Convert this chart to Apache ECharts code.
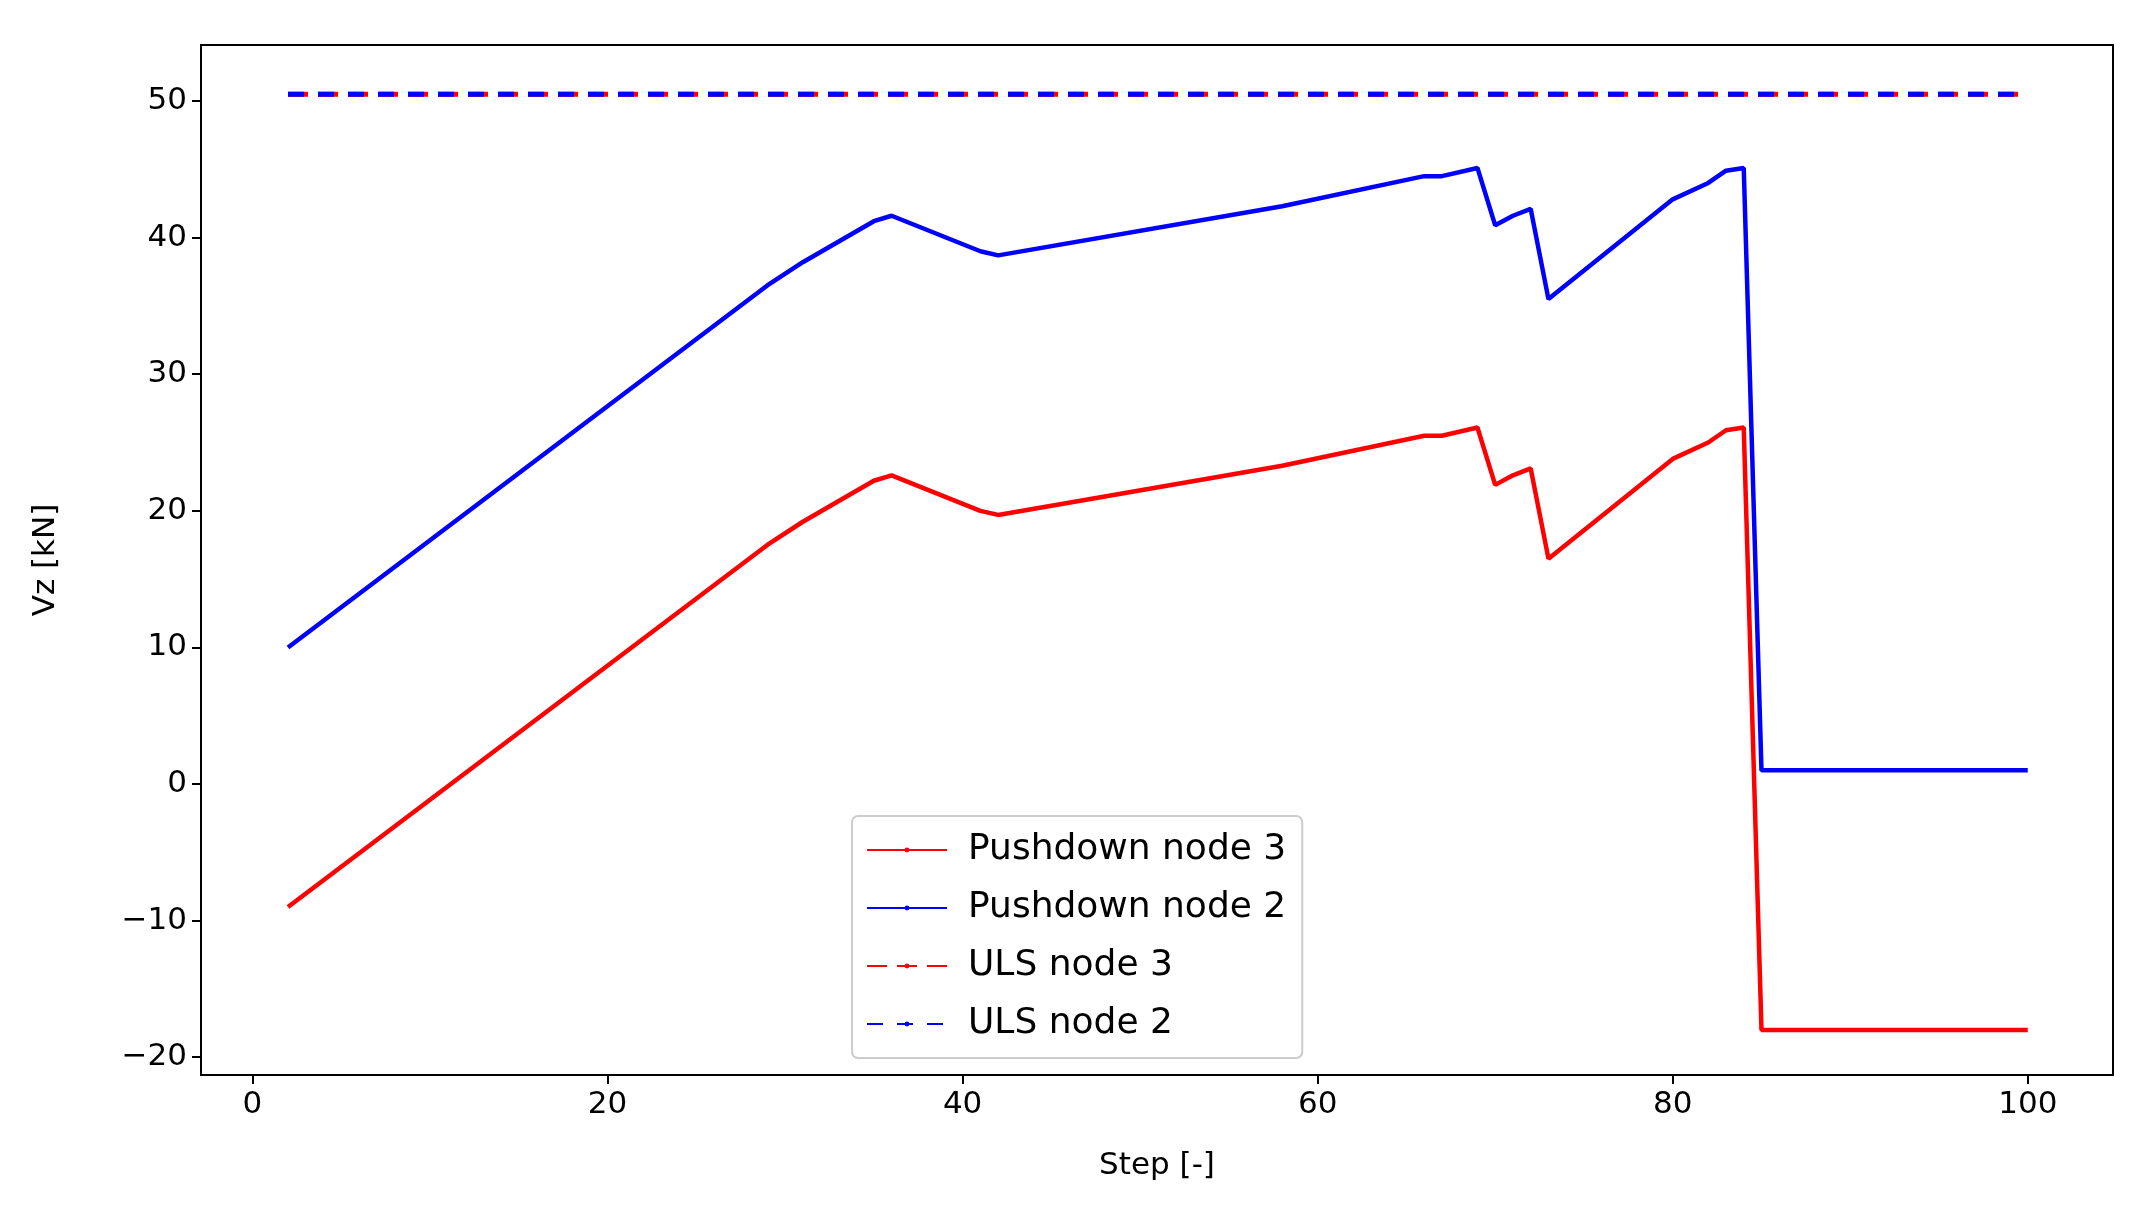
<!DOCTYPE html>
<html>
<head>
<meta charset="utf-8">
<script src="https://cdn.jsdelivr.net/npm/echarts@6/dist/echarts.min.js"></script>
<style>html,body{margin:0;padding:0;background:#fff}#main{width:2133px;height:1230px}</style>
</head>
<body>
<div id="main"></div>
<script>
var steps = [2, 29, 31, 35, 36, 41, 42, 58, 66, 67, 69, 70, 71, 72, 73, 80, 82, 83, 84, 85, 100];
var node2 = [10, 36.5, 38.2, 41.2, 41.6, 39.0, 38.7, 42.3, 44.5, 44.5, 45.1, 40.9, 41.6, 42.1, 35.5, 42.8, 44.0, 44.9, 45.1, 1.0, 1.0];
var node3 = [-9, 17.5, 19.2, 22.2, 22.6, 20.0, 19.7, 23.3, 25.5, 25.5, 26.1, 21.9, 22.6, 23.1, 16.5, 23.8, 25.0, 25.9, 26.1, -18.0, -18.0];
var ulsSteps = [2, 100];
var uls3 = [50.5, 50.5];
var uls2 = [50.5, 50.5];
var xTicks = [0, 20, 40, 60, 80, 100];
var yTicks = [-20, -10, 0, 10, 20, 30, 40, 50];

function pairs(xs, ys) { return xs.map(function (x, i) { return [x, ys[i]]; }); }

var myChart = echarts.init(document.getElementById('main'));
var font = 'DejaVu Sans';
var option = {
    animation: false,
    grid: {left: 201, right: 20, top: 45, bottom: 155, containLabel: false},
    xAxis: {
        type: 'value', min: -2.9, max: 104.8,
        name: 'Step [-]', nameLocation: 'middle', nameGap: 75,
        nameTextStyle: {fontFamily: font, fontSize: 31, color: '#000'},
        axisLine: {show: true, onZero: false, lineStyle: {color: '#000', width: 2}},
        axisTick: {show: true, length: 9, customValues: xTicks, lineStyle: {color: '#000', width: 2}},
        axisLabel: {fontFamily: font, fontSize: 31, color: '#000', margin: 14, customValues: xTicks},
        splitLine: {show: false}
    },
    yAxis: {
        type: 'value', min: -21.3, max: 54.1,
        name: 'Vz [kN]', nameLocation: 'middle', nameGap: 140,
        nameTextStyle: {fontFamily: font, fontSize: 31, color: '#000'},
        axisLine: {show: true, onZero: false, lineStyle: {color: '#000', width: 2}},
        axisTick: {show: true, length: 9, customValues: yTicks, lineStyle: {color: '#000', width: 2}},
        axisLabel: {fontFamily: font, fontSize: 31, color: '#000', margin: 14, customValues: yTicks,
            formatter: function (v) { return String(v).replace('-', '\u2212'); }},
        splitLine: {show: false}
    },
    legend: {
        orient: 'vertical', left: 852, top: 816, padding: [16, 16, 16, 14], itemGap: 22,
        backgroundColor: '#fff', borderColor: '#ccc', borderWidth: 2, borderRadius: 6,
        itemWidth: 80, itemHeight: 6,
        textStyle: {fontFamily: font, fontSize: 36, color: '#000', padding: [0, 0, 0, 16]},
        data: ['Pushdown node 3', 'Pushdown node 2', 'ULS node 3', 'ULS node 2']
    },
    series: [
        {name: 'Pushdown node 3', type: 'line', data: pairs(steps, node3), showSymbol: false, symbol: 'none',
            lineStyle: {color: '#ff0000', width: 4.5}, itemStyle: {color: '#ff0000'}},
        {name: 'Pushdown node 2', type: 'line', data: pairs(steps, node2), showSymbol: false, symbol: 'none',
            lineStyle: {color: '#0000ff', width: 4.5}, itemStyle: {color: '#0000ff'}},
        {name: 'ULS node 3', type: 'line', data: pairs(ulsSteps, uls3), showSymbol: false, symbol: 'none',
            lineStyle: {color: '#ff0000', width: 5, type: [20, 10]}, itemStyle: {color: '#ff0000'}},
        {name: 'ULS node 2', type: 'line', data: pairs(ulsSteps, uls2), showSymbol: false, symbol: 'none',
            lineStyle: {color: '#0000ff', width: 5, type: [16, 14]}, itemStyle: {color: '#0000ff'}}
    ],
    graphic: [{type: 'rect', shape: {x: 201, y: 45, width: 1912, height: 1030},
        style: {fill: null, stroke: '#000', lineWidth: 2}, silent: true, z: 100}]
};
myChart.setOption(option);
</script>
</body>
</html>
